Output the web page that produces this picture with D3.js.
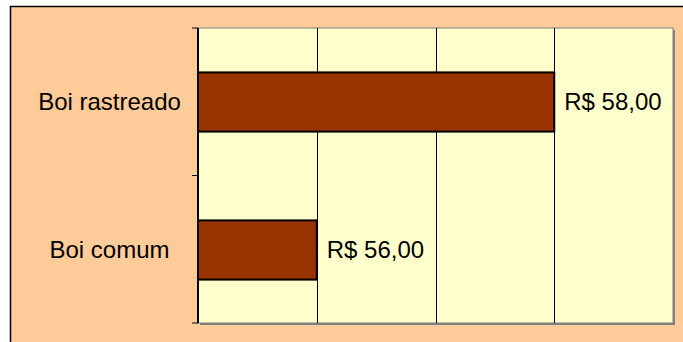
<!DOCTYPE html>
<html>
<head>
<meta charset="utf-8">
<script src="https://cdn.jsdelivr.net/npm/d3@7"></script>
<style>
  body { margin: 0; background: #fff; }
  svg { display: block; font-family: Arial, "Liberation Sans", sans-serif; }
</style>
</head>
<body>
<svg class="bar-chart" width="683" height="342"></svg>
<script>
const categories = ["Boi rastreado", "Boi comum"];
const prices = [58, 56];
const priceTicks = [55, 56, 57, 58, 59];

function drawChart() {
    const svg = d3.select("svg.bar-chart");
    const plot = {left: 198, right: 673, top: 28, bottom: 323};

    // chart area frame (clipped on right and bottom)
    svg.append("rect")
        .attr("x", 10.5).attr("y", 6.5)
        .attr("width", 720).attr("height", 400)
        .attr("fill", "#FFCC99")
        .attr("stroke", "#000")
        .attr("stroke-width", 1.5);

    const x = d3.scaleLinear().domain([55, 59]).range([plot.left, plot.right]);
    const y = d3.scaleBand().domain(categories)
        .range([plot.top, plot.bottom + 1])
        .paddingInner(0.6).paddingOuter(0.3);

    // plot area shadow + fill
    svg.append("rect")
        .attr("x", plot.left + 2).attr("y", plot.top + 2)
        .attr("width", plot.right - plot.left).attr("height", plot.bottom - plot.top)
        .attr("fill", "#808080");
    svg.append("rect")
        .attr("x", plot.left).attr("y", plot.top)
        .attr("width", plot.right - plot.left).attr("height", plot.bottom - plot.top)
        .attr("fill", "#FFFFCC")
        .attr("stroke", "#808080")
        .attr("stroke-width", 1);

    // vertical gridlines
    svg.append("g")
        .selectAll("line")
        .data(priceTicks.slice(1, -1))
        .enter().append("line")
            .attr("x1", d => Math.round(x(d)) + 0.5)
            .attr("x2", d => Math.round(x(d)) + 0.5)
            .attr("y1", plot.top)
            .attr("y2", plot.bottom)
            .attr("stroke", "#000")
            .attr("stroke-width", 1);

    // bars
    svg.append("g")
        .selectAll("rect")
        .data(categories)
        .enter().append("rect")
            .attr("x", x(55))
            .attr("y", d => y(d))
            .attr("width", (d, i) => x(prices[i]) - x(55))
            .attr("height", y.bandwidth())
            .attr("fill", "#993300")
            .attr("stroke", "#000")
            .attr("stroke-width", 2);

    // category axis
    const tickYs = [plot.top, plot.top + (plot.bottom - plot.top) / 2, plot.bottom];
    const ax = svg.append("g");
    ax.append("line")
        .attr("x1", plot.left).attr("x2", plot.left)
        .attr("y1", plot.top).attr("y2", plot.bottom)
        .attr("stroke", "#000").attr("stroke-width", 2);
    ax.selectAll(".tick")
        .data(tickYs)
        .enter().append("line")
            .attr("x1", plot.left - 6).attr("x2", plot.left)
            .attr("y1", d => d).attr("y2", d => d)
            .attr("stroke", "#000").attr("stroke-width", 1);

    ax.selectAll("text")
        .data(categories)
        .enter().append("text")
            .attr("x", 109.5)
            .attr("y", d => y(d) + y.bandwidth() / 2)
            .attr("dy", "0.33em")
            .attr("text-anchor", "middle")
            .attr("font-size", 24)
            .attr("fill", "#000")
            .text(d => d);

    // value labels
    svg.append("g")
        .selectAll("text")
        .data(categories)
        .enter().append("text")
            .attr("x", (d, i) => x(prices[i]) + 10)
            .attr("y", d => y(d) + y.bandwidth() / 2)
            .attr("dy", "0.35em")
            .attr("font-size", 24)
            .attr("fill", "#000")
            .text((d, i) => "R$ " + d3.format(".2f")(prices[i]).replace(".", ","));
}

drawChart();
</script>
</body>
</html>
